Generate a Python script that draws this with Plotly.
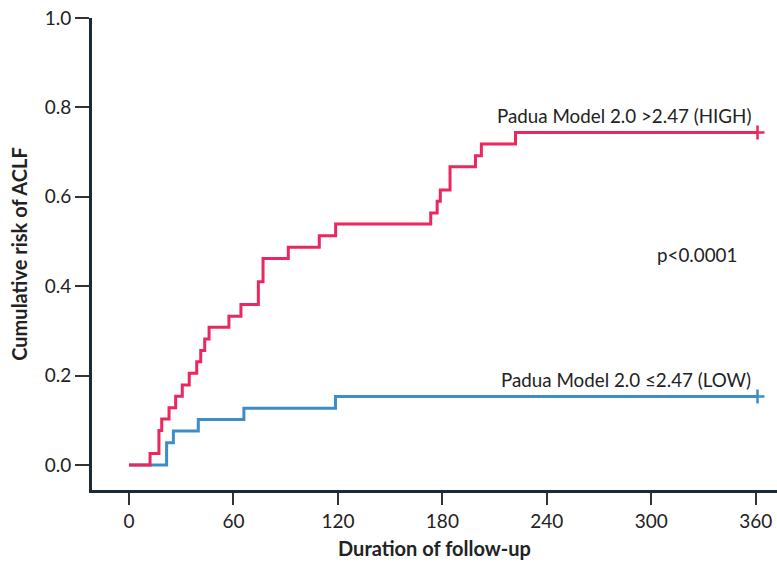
import plotly.graph_objects as go

# HIGH group (Padua Model 2.0 >2.47)
high_days = [0, 12.1, 17.2, 18.8, 23.0, 26.8, 30.6, 34.6, 38.9, 41.2, 43.5, 46.0,
             57.4, 64.3, 74.3, 77.0, 91.5, 109.3, 118.7, 173.3, 177.0, 178.8,
             184.4, 199.0, 202.4, 222.0, 361.0]
high_risk = [0, 0.026, 0.077, 0.103, 0.128, 0.154, 0.179, 0.205, 0.231, 0.256, 0.282, 0.308,
             0.333, 0.359, 0.410, 0.462, 0.487, 0.513, 0.539, 0.564, 0.590, 0.615,
             0.667, 0.692, 0.718, 0.744, 0.744]

# LOW group (Padua Model 2.0 <=2.47)
low_days = [0, 21.6, 25.5, 39.8, 66.0, 118.6, 361.0]
low_risk = [0, 0.050, 0.076, 0.102, 0.127, 0.153, 0.153]

x_ticks = [0, 60, 120, 180, 240, 300, 360]
y_ticks = [0.0, 0.2, 0.4, 0.6, 0.8, 1.0]

RED = "#E8285E"
BLUE = "#3D8DC7"
AXIS = "#1B2A35"
FONT = "Lato"

fig = go.Figure()
fig.add_trace(go.Scatter(x=low_days, y=low_risk, mode="lines", line=dict(color=BLUE, width=3, shape="hv"),
                         showlegend=False, hoverinfo="skip"))
fig.add_trace(go.Scatter(x=high_days, y=high_risk, mode="lines", line=dict(color=RED, width=3, shape="hv"),
                         showlegend=False, hoverinfo="skip"))
# censoring ticks at end
fig.add_trace(go.Scatter(x=[low_days[-1]], y=[low_risk[-1]], mode="markers",
                         marker=dict(symbol="cross-thin", size=10, line=dict(color=BLUE, width=2.5)),
                         showlegend=False, hoverinfo="skip"))
fig.add_trace(go.Scatter(x=[high_days[-1]], y=[high_risk[-1]], mode="markers",
                         marker=dict(symbol="cross-thin", size=10, line=dict(color=RED, width=2.5)),
                         showlegend=False, hoverinfo="skip"))

fig.add_annotation(x=358.2, y=0.781, text="Padua Model 2.0 >2.47 (HIGH)", showarrow=False,
                   xanchor="right", yanchor="middle", font=dict(family=FONT, size=18.8, color="#222"))
fig.add_annotation(x=358.2, y=0.192, text="Padua Model 2.0 ≤2.47 (LOW)", showarrow=False,
                   xanchor="right", yanchor="middle", font=dict(family=FONT, size=18.8, color="#222"))
fig.add_annotation(x=326, y=0.47, text="p<0.0001", showarrow=False,
                   xanchor="center", yanchor="middle", font=dict(family=FONT, size=18.8, color="#222"))

fig.update_layout(
    width=777, height=562,
    margin=dict(l=92, r=0, t=18, b=72),
    plot_bgcolor="white", paper_bgcolor="white",
    font=dict(family=FONT, size=19, color="#222"),
    xaxis=dict(range=[-21.25, 372.2], tickvals=x_ticks, ticktext=[str(v) for v in x_ticks],
               showgrid=False, zeroline=False, showline=True, linecolor=AXIS, linewidth=3,
               ticks="outside", ticklen=12, tickwidth=1.5, tickcolor="#333",
               tickfont=dict(family=FONT, size=19),
               title=dict(text="<b>Duration of follow-up</b>", font=dict(family=FONT, size=20), standoff=12)),
    yaxis=dict(range=[-0.0559, 1.0], tickvals=y_ticks, ticktext=[f"{v:.1f}" for v in y_ticks],
               showgrid=False, zeroline=False, showline=True, linecolor=AXIS, linewidth=3,
               ticks="outside", ticklen=14, tickwidth=1.5, tickcolor="#333",
               tickfont=dict(family=FONT, size=19),
               title=dict(text="<b>Cumulative risk of ACLF</b>", font=dict(family=FONT, size=20), standoff=12)),
)

fig.write_html("out.html")
